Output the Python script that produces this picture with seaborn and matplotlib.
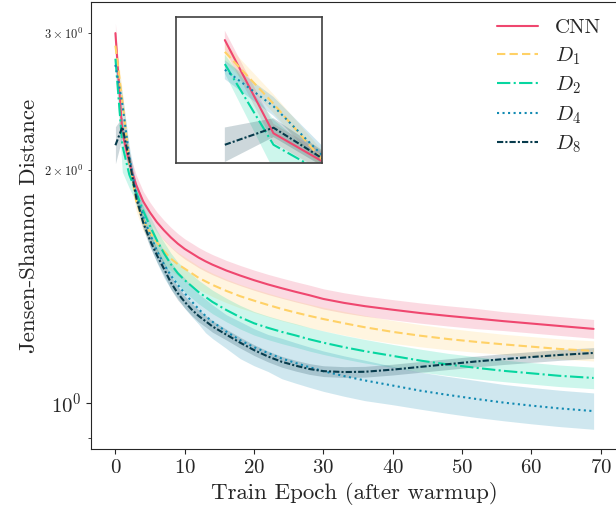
import numpy as np
import pandas as pd
import matplotlib
matplotlib.use("Agg")
import matplotlib.pyplot as plt
import seaborn as sns

epochs = [0, 1, 2, 3, 4, 5, 6, 7, 8, 9, 10, 11, 12, 13, 14, 16, 18, 20, 22, 24,
          26, 28, 30, 33, 36, 40, 44, 48, 52, 56, 60, 64, 69]

models = ["CNN", "$D_1$", "$D_2$", "$D_4$", "$D_8$"]
colors = ["#EF476F", "#FFD166", "#06D6A0", "#118AB2", "#073B4C"]

# mean Jensen-Shannon distance per model
cnn = [3.00, 2.23, 2.04, 1.91, 1.82, 1.76, 1.71, 1.67, 1.635, 1.605,
       1.58, 1.56, 1.54, 1.523, 1.508, 1.482, 1.46, 1.44, 1.422, 1.406,
       1.391, 1.377, 1.362, 1.346, 1.333, 1.319, 1.306, 1.295, 1.285, 1.275,
       1.266, 1.257, 1.246]
d1 = [2.89, 2.45, 2.05, 1.82, 1.72, 1.66, 1.61, 1.57, 1.535, 1.51,
      1.49, 1.47, 1.45, 1.435, 1.42, 1.395, 1.373, 1.355, 1.338, 1.322,
      1.308, 1.295, 1.283, 1.267, 1.252, 1.235, 1.221, 1.209, 1.199, 1.19,
      1.182, 1.174, 1.167]
d2 = [2.78, 2.15, 1.97, 1.87, 1.77, 1.69, 1.62, 1.56, 1.51, 1.47,
      1.44, 1.415, 1.39, 1.37, 1.35, 1.318, 1.29, 1.267, 1.25, 1.235,
      1.222, 1.208, 1.196, 1.18, 1.166, 1.15, 1.134, 1.121, 1.11, 1.1,
      1.092, 1.084, 1.077]
d4 = [2.73, 2.43, 2.08, 1.86, 1.74, 1.65, 1.57, 1.51, 1.46, 1.42,
      1.385, 1.352, 1.322, 1.295, 1.273, 1.236, 1.205, 1.18, 1.16, 1.141,
      1.126, 1.112, 1.099, 1.083, 1.069, 1.053, 1.037, 1.024, 1.012, 1.001,
      0.992, 0.984, 0.976]
d8 = [2.15, 2.27, 2.06, 1.84, 1.71, 1.62, 1.55, 1.49, 1.43, 1.385,
      1.35, 1.32, 1.295, 1.275, 1.255, 1.225, 1.196, 1.17, 1.148, 1.13,
      1.117, 1.106, 1.099, 1.096, 1.097, 1.104, 1.113, 1.122, 1.131, 1.139,
      1.146, 1.153, 1.16]

# half width of the shaded band (log units)
cnn_err = [0.03, 0.03, 0.03, 0.03, 0.03, 0.03, 0.03, 0.03, 0.03, 0.03,
           0.03, 0.03, 0.03, 0.03, 0.03, 0.03, 0.03, 0.03, 0.03, 0.03,
           0.03, 0.03, 0.03, 0.03, 0.03, 0.03, 0.03, 0.03, 0.03, 0.028,
           0.028, 0.028, 0.028]
d1_err = [0.03, 0.03, 0.03, 0.03, 0.03, 0.03, 0.03, 0.035, 0.035, 0.035,
          0.035, 0.035, 0.035, 0.035, 0.035, 0.035, 0.035, 0.035, 0.035, 0.035,
          0.035, 0.035, 0.035, 0.035, 0.035, 0.034, 0.033, 0.032, 0.031, 0.03,
          0.03, 0.03, 0.03]
d2_err = [0.03, 0.08, 0.04, 0.03, 0.03, 0.03, 0.03, 0.033, 0.033, 0.033,
          0.035, 0.035, 0.035, 0.035, 0.035, 0.035, 0.035, 0.035, 0.035, 0.035,
          0.035, 0.035, 0.035, 0.035, 0.035, 0.034, 0.034, 0.033, 0.033, 0.032,
          0.032, 0.032, 0.032]
d4_err = [0.03, 0.03, 0.03, 0.03, 0.03, 0.035, 0.035, 0.04, 0.04, 0.04,
          0.045, 0.045, 0.045, 0.05, 0.05, 0.05, 0.055, 0.055, 0.055, 0.06,
          0.06, 0.06, 0.06, 0.06, 0.06, 0.057, 0.055, 0.055, 0.055, 0.054,
          0.054, 0.054, 0.054]
d8_err = [0.055, 0.03, 0.025, 0.02, 0.02, 0.02, 0.02, 0.02, 0.02, 0.02,
          0.018, 0.018, 0.018, 0.017, 0.017, 0.016, 0.016, 0.016, 0.016, 0.016,
          0.016, 0.016, 0.016, 0.016, 0.016, 0.016, 0.016, 0.016, 0.016, 0.016,
          0.016, 0.016, 0.016]

means = [cnn, d1, d2, d4, d8]
errs = [cnn_err, d1_err, d2_err, d4_err, d8_err]
dashes = {"CNN": "", "$D_1$": (4, 2), "$D_2$": (6.4, 1.6, 1, 1.6),
          "$D_4$": (1, 1.65), "$D_8$": (3, 1, 1, 1)}

sns.set_style("ticks")
plt.rcParams["font.family"] = ["cmr10"]
plt.rcParams["mathtext.fontset"] = "cm"
plt.rcParams["axes.formatter.use_mathtext"] = True
plt.rcParams["axes.unicode_minus"] = False

rows = []
for name, vals, err in zip(models, means, errs):
    for e, v, w in zip(epochs, vals, err):
        rows.append({"epoch": e, "jsd": v, "lo": v * np.exp(-w), "hi": v * np.exp(w), "model": name})
df = pd.DataFrame(rows)

fig = plt.figure(figsize=(6.16, 5.12), dpi=100)
ax = fig.add_axes([0.148, 0.123, 0.855, 0.873])
ax_in = fig.add_axes([0.286, 0.682, 0.237, 0.285])


def draw(a, legend):
    for name, col in zip(models, colors):
        sub = df[df["model"] == name]
        a.fill_between(sub["epoch"], sub["lo"], sub["hi"], color=col, alpha=0.2, lw=0)
    sns.lineplot(data=df, x="epoch", y="jsd", hue="model", style="model",
                 palette=colors, dashes=dashes, linewidth=1.5, ax=a, legend=legend)
    a.set_yscale("log")


draw(ax, True)
ax.set_xlim(-3.5, 72.5)
ax.set_ylim(0.872, 3.29)
ax.set_xlabel("Train Epoch (after warmup)", fontsize=16.5)
ax.set_ylabel("Jensen-Shannon Distance", fontsize=16.5)
ax.tick_params(axis="x", labelsize=15)
ax.tick_params(axis="y", which="major", labelsize=15)
ax.tick_params(axis="y", which="minor", labelsize=9)
sns.move_legend(ax, "upper right", frameon=False, fontsize=15, title=None,
                labelspacing=0.38, borderaxespad=0.4)

draw(ax_in, False)
ax_in.set_xlim(-1, 2)
ax_in.set_ylim(2.03, 3.23)
ax_in.set_xticks([])
ax_in.set_yticks([])
ax_in.minorticks_off()
ax_in.set_xlabel("")
ax_in.set_ylabel("")
for s in ax_in.spines.values():
    s.set_color("0.25")
    s.set_linewidth(1.2)

fig.savefig("out.png", dpi=100)
